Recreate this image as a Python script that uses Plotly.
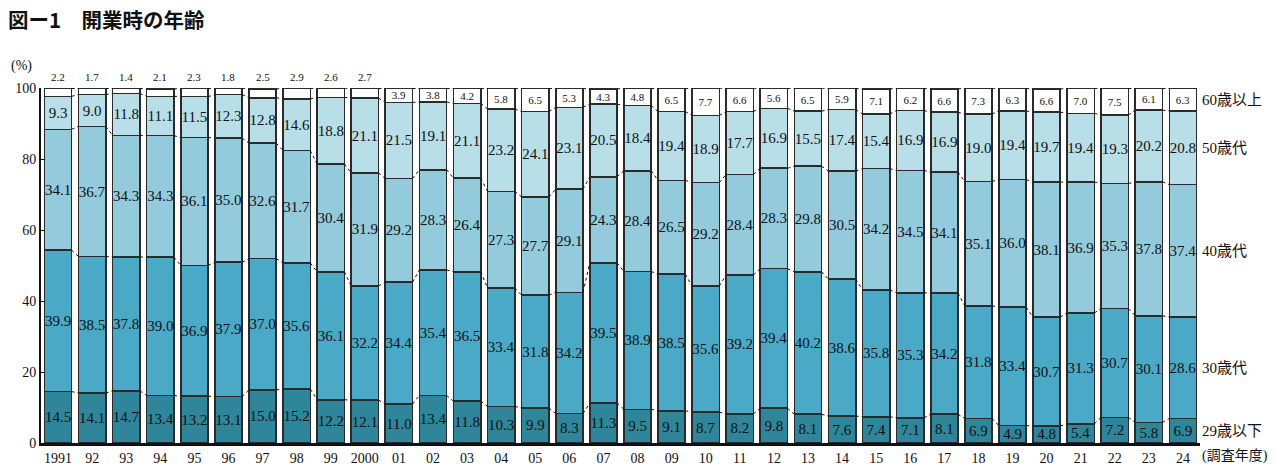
import plotly.graph_objects as go
import numpy as np

# ______________________________________________________________________________
# DATA
# ______________________________________________________________________________

year_labels = ['1991', '92', '93', '94', '95', '96', '97', '98', '99', '2000',
               '01', '02', '03', '04', '05', '06', '07', '08', '09', '10',
               '11', '12', '13', '14', '15', '16', '17', '18', '19', '20',
               '21', '22', '23', '24']

age_29 = [14.5, 14.1, 14.7, 13.4, 13.2, 13.1, 15.0, 15.2, 12.2, 12.1,
          11.0, 13.4, 11.8, 10.3, 9.9, 8.3, 11.3, 9.5, 9.1, 8.7,
          8.2, 9.8, 8.1, 7.6, 7.4, 7.1, 8.1, 6.9, 4.9, 4.8,
          5.4, 7.2, 5.8, 6.9]

age_30 = [39.9, 38.5, 37.8, 39.0, 36.9, 37.9, 37.0, 35.6, 36.1, 32.2,
          34.4, 35.4, 36.5, 33.4, 31.8, 34.2, 39.5, 38.9, 38.5, 35.6,
          39.2, 39.4, 40.2, 38.6, 35.8, 35.3, 34.2, 31.8, 33.4, 30.7,
          31.3, 30.7, 30.1, 28.6]

age_40 = [34.1, 36.7, 34.3, 34.3, 36.1, 35.0, 32.6, 31.7, 30.4, 31.9,
          29.2, 28.3, 26.4, 27.3, 27.7, 29.1, 24.3, 28.4, 26.5, 29.2,
          28.4, 28.3, 29.8, 30.5, 34.2, 34.5, 34.1, 35.1, 36.0, 38.1,
          36.9, 35.3, 37.8, 37.4]

age_50 = [9.3, 9.0, 11.8, 11.1, 11.5, 12.3, 12.8, 14.6, 18.8, 21.1,
          21.5, 19.1, 21.1, 23.2, 24.1, 23.1, 20.5, 18.4, 19.4, 18.9,
          17.7, 16.9, 15.5, 17.4, 15.4, 16.9, 16.9, 19.0, 19.4, 19.7,
          19.4, 19.3, 20.2, 20.8]

age_60 = [2.2, 1.7, 1.4, 2.1, 2.3, 1.8, 2.5, 2.9, 2.6, 2.7,
          3.9, 3.8, 4.2, 5.8, 6.5, 5.3, 4.3, 4.8, 6.5, 7.7,
          6.6, 5.6, 6.5, 5.9, 7.1, 6.2, 6.6, 7.3, 6.3, 6.6,
          7.0, 7.5, 6.1, 6.3]

series_names = ['29歳以下', '30歳代', '40歳代', '50歳代', '60歳以上']
series_values = [age_29, age_30, age_40, age_50, age_60]
colors = ['#2f8599', '#4aa9c6', '#93cbdd', '#b8dfe8', '#ffffff']

# number of early years where the 60+ label sits above the bar
n_outside = 10

# ______________________________________________________________________________
# FIGURE
# ______________________________________________________________________________

serif = 'Liberation Serif, Noto Sans CJK JP'
bar_width = 0.8
x = list(range(len(year_labels)))

fig = go.Figure()

for k, (name, vals, col) in enumerate(zip(series_names, series_values, colors)):
    if k == 4:
        text = ['' if i < n_outside else f'{v:.1f}' for i, v in enumerate(vals)]
        size = 11
    else:
        text = [f'{v:.1f}' for v in vals]
        size = 15
    fig.add_trace(go.Bar(
        x=x, y=vals, name=name, width=bar_width,
        marker=dict(color=col, line=dict(color='#2a2a2a', width=1.6)),
        text=text, textposition='inside', insidetextanchor='middle',
        constraintext='none', textangle=0,
        textfont=dict(family=serif, size=size, color='#111'),
        cliponaxis=False, showlegend=False,
    ))

# dotted lines joining the segment boundaries of neighbouring bars
cum = np.cumsum(np.array(series_values), axis=0)
half = bar_width / 2
for level in cum:
    lx, ly = [], []
    for i in range(len(x) - 1):
        lx += [x[i] + half, x[i + 1] - half, None]
        ly += [level[i], level[i + 1], None]
    fig.add_trace(go.Scatter(x=lx, y=ly, mode='lines',
                             line=dict(color='#111', width=1, dash='dot'),
                             hoverinfo='skip', showlegend=False, cliponaxis=False))

# 60+ labels above the early bars
for i in range(n_outside):
    fig.add_annotation(x=x[i], y=100, yshift=12, yanchor='middle', text=f'{age_60[i]:.1f}',
                       showarrow=False, font=dict(family=serif, size=11, color='#111'))

# series names at the right of the last bar
for k, name in enumerate(series_names):
    mid = cum[k][-1] - series_values[k][-1] / 2
    fig.add_annotation(x=x[-1] + 0.5, y=mid, text=name, xanchor='left', yanchor='middle',
                       showarrow=False, font=dict(family=serif, size=15, color='#111'))

fig.add_annotation(x=x[-1] + 0.5, y=0, yref='paper', yshift=-13, text='(調査年度)',
                   xanchor='left', yanchor='middle', showarrow=False,
                   font=dict(family=serif, size=14, color='#111'))
fig.add_annotation(x=-0.028, xref='paper', y=1.062, yref='paper', text='(%)',
                   xanchor='left', yanchor='middle', showarrow=False,
                   font=dict(family=serif, size=14, color='#111'))

# the page body adds an 8px margin, so the figure is sized to fit beside it
fig.update_layout(
    width=1268, height=457,
    margin=dict(l=33, r=76, t=80, b=22, autoexpand=False),
    barmode='stack', bargap=0.2,
    plot_bgcolor='white', paper_bgcolor='white',
    title=dict(text='<b>図ー1　開業時の年齢</b>', x=0.0, xref='container', xanchor='left',
               y=0.972, yref='container', yanchor='middle',
               font=dict(family='Noto Sans CJK JP', size=20.5, color='#111')),
    xaxis=dict(range=[-0.5, len(x) - 0.5], tickvals=x, ticktext=year_labels,
               showline=True, linecolor='#111', linewidth=3, ticks='',
               showgrid=False, zeroline=False, automargin=False,
               tickfont=dict(family=serif, size=14, color='#111')),
    yaxis=dict(range=[0, 100.15], tickvals=[0, 20, 40, 60, 80, 100],
               showline=True, linecolor='#111', linewidth=2,
               ticks='inside', ticklen=4, tickcolor='#111',
               showgrid=False, zeroline=False, automargin=False,
               tickfont=dict(family=serif, size=14, color='#111')),
)

fig.write_html('out.html')
